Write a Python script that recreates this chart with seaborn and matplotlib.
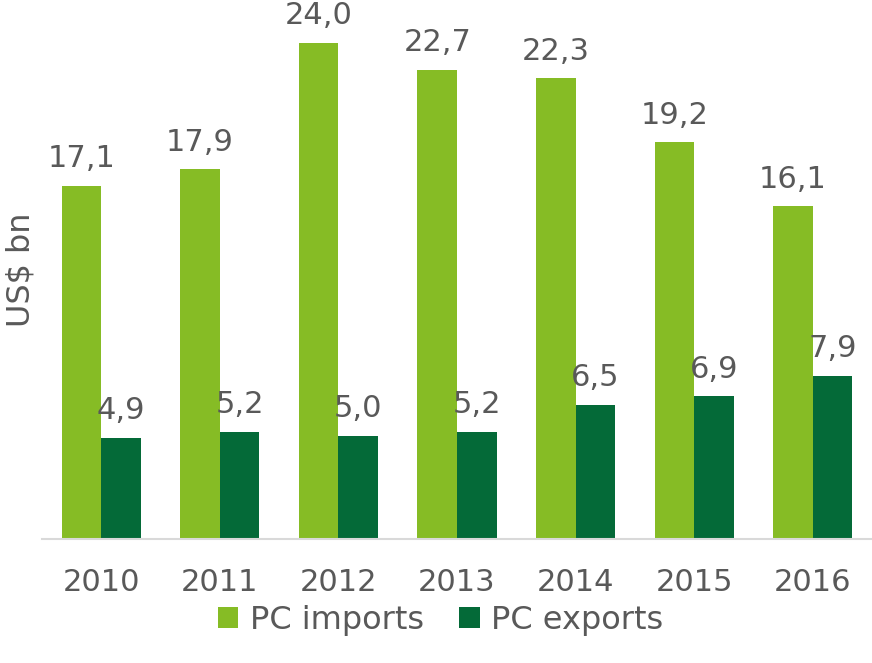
import pandas as pd
import seaborn as sns
import matplotlib.pyplot as plt

# PC trade values, US$ bn
years = ['2010', '2011', '2012', '2013', '2014', '2015', '2016']
imports = [17.1, 17.9, 24.0, 22.7, 22.3, 19.2, 16.1]
exports = [4.9, 5.2, 5.0, 5.2, 6.5, 6.9, 7.9]
series = ['PC imports', 'PC exports']
colors = ['#86BC25', '#046A38']

df = pd.DataFrame({
    'year': years * 2,
    'value': imports + exports,
    'series': [series[0]] * len(years) + [series[1]] * len(years),
})

sns.set_style('white')
plt.rcParams['font.family'] = ['DejaVu Sans']
text_color = '#595959'

fig = plt.figure(figsize=(8.72, 6.63), dpi=100)
ax = fig.add_axes([42 / 872, 124 / 663, 830 / 872, 539 / 663])

sns.barplot(data=df, x='year', y='value', hue='series', palette=colors,
            width=0.667, saturation=1, linewidth=0, ax=ax, legend=True)

for cont in ax.containers:
    ax.bar_label(cont, labels=[f'{v:.1f}'.replace('.', ',') for v in cont.datavalues],
                 padding=9, fontsize=22, color=text_color)

ax.set_xlim(-0.5, 6.5)
ax.set_ylim(0, 26.08)
ax.set_yticks([])
ax.set_xlabel('')
ax.set_ylabel('US$ bn', fontsize=23, color=text_color, labelpad=4)
ax.tick_params(axis='x', length=0, pad=21, labelsize=22, labelcolor=text_color)
for s in ['top', 'right', 'left']:
    ax.spines[s].set_visible(False)
ax.spines['bottom'].set_color('#D9D9D9')
ax.spines['bottom'].set_linewidth(1.5)

handles, labels = ax.get_legend_handles_labels()
ax.get_legend().remove()
leg = fig.legend(handles, labels, loc='lower center', bbox_to_anchor=(0.505, -0.002),
                 ncol=2, frameon=False, fontsize=23, handlelength=0.65,
                 handleheight=0.65, handletextpad=0.35, columnspacing=1.1)
for t in leg.get_texts():
    t.set_color(text_color)

fig.savefig('out.png', dpi=100)
